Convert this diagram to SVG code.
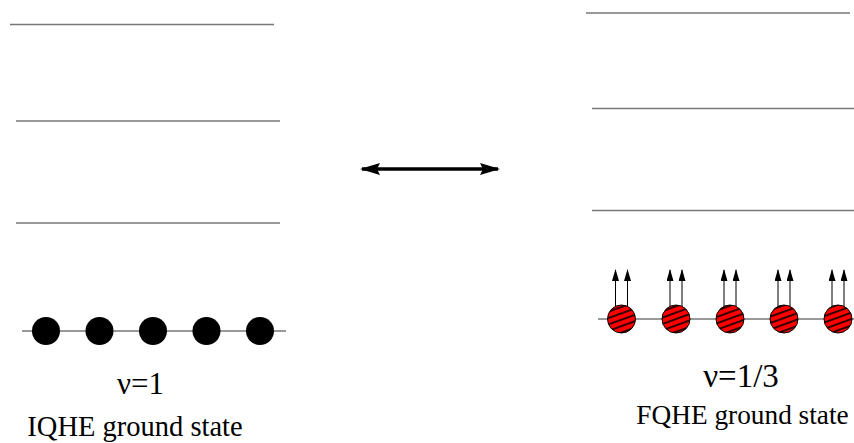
<svg xmlns="http://www.w3.org/2000/svg" width="854" height="443" viewBox="0 0 854 443">
<style>
.lvl{stroke:#777;stroke-width:1.6;fill:none}
.base{stroke:#777;stroke-width:1.4;fill:none}
.el{fill:#000}
.qp{fill:url(#hatch);stroke:#000;stroke-width:1}
.spin{stroke:#000;stroke-width:1;fill:none;marker-end:url(#ah)}
.lbl{font-family:"Liberation Serif","Times New Roman",serif;fill:#000;text-anchor:middle}
</style>
<defs>
<pattern id="hatch" patternUnits="userSpaceOnUse" width="12" height="6" patternTransform="rotate(-20)">
<rect width="12" height="6" fill="#f00"/>
<line x1="0" y1="3" x2="12" y2="3" stroke="#000" stroke-width="1.6"/>
</pattern>
<marker id="ah" markerWidth="12" markerHeight="7" refX="11" refY="3.5" orient="auto" markerUnits="userSpaceOnUse" viewBox="0 0 12 7">
<path d="M0,0 L12,3.5 L0,7 z" fill="#000"/>
</marker>
<marker id="big" markerWidth="20" markerHeight="12" refX="18" refY="6" orient="auto-start-reverse" markerUnits="userSpaceOnUse" viewBox="0 0 20 12">
<path d="M0,0 L20,6 L0,12 L3,6 z" fill="#000"/>
</marker>
</defs>
<g id="iqhe-levels">
<line class="lvl" x1="10" y1="24.5" x2="274" y2="24.5"/>
<line class="lvl" x1="16" y1="121" x2="280" y2="121"/>
<line class="lvl" x1="16" y1="223" x2="280" y2="223"/>
</g>
<g id="iqhe-ground">
<line class="base" x1="22" y1="331" x2="286" y2="331"/>
<circle class="el" cx="46" cy="331" r="14"/>
<circle class="el" cx="99.5" cy="331" r="14"/>
<circle class="el" cx="153" cy="331" r="14"/>
<circle class="el" cx="206.5" cy="331" r="14"/>
<circle class="el" cx="260" cy="331" r="14"/>
</g>
<g id="fqhe-levels">
<line class="lvl" x1="586" y1="13" x2="850" y2="13"/>
<line class="lvl" x1="592" y1="108.5" x2="854" y2="108.5"/>
<line class="lvl" x1="592" y1="210.5" x2="854" y2="210.5"/>
</g>
<g id="fqhe-ground">
<line class="base" x1="598" y1="319" x2="854" y2="319"/>
<g id="cf1"><line class="spin" x1="615.5" y1="307" x2="615.5" y2="270"/><line class="spin" x1="627.5" y1="307" x2="627.5" y2="270"/><circle class="qp" cx="621.5" cy="319" r="14"/></g>
<g id="cf2"><line class="spin" x1="670" y1="307" x2="670" y2="270"/><line class="spin" x1="682" y1="307" x2="682" y2="270"/><circle class="qp" cx="676" cy="319" r="14"/></g>
<g id="cf3"><line class="spin" x1="724" y1="307" x2="724" y2="270"/><line class="spin" x1="736" y1="307" x2="736" y2="270"/><circle class="qp" cx="730" cy="319" r="14"/></g>
<g id="cf4"><line class="spin" x1="778" y1="307" x2="778" y2="270"/><line class="spin" x1="790" y1="307" x2="790" y2="270"/><circle class="qp" cx="784" cy="319" r="14"/></g>
<g id="cf5"><line class="spin" x1="832" y1="307" x2="832" y2="270"/><line class="spin" x1="844" y1="307" x2="844" y2="270"/><circle class="qp" cx="838" cy="319" r="14"/></g>
</g>
<g id="connectors">
<line x1="362" y1="169" x2="498" y2="169" stroke="#000" stroke-width="3.5" marker-start="url(#big)" marker-end="url(#big)"/>
</g>
<g id="labels">
<text class="lbl" x="140.5" y="394" font-size="31">ν=1</text>
<text class="lbl" x="135" y="436" font-size="28.5">IQHE ground state</text>
<text class="lbl" x="741" y="387" font-size="33">ν=1/3</text>
<text class="lbl" x="742.5" y="424" font-size="27.3">FQHE ground state</text>
</g>
</svg>
